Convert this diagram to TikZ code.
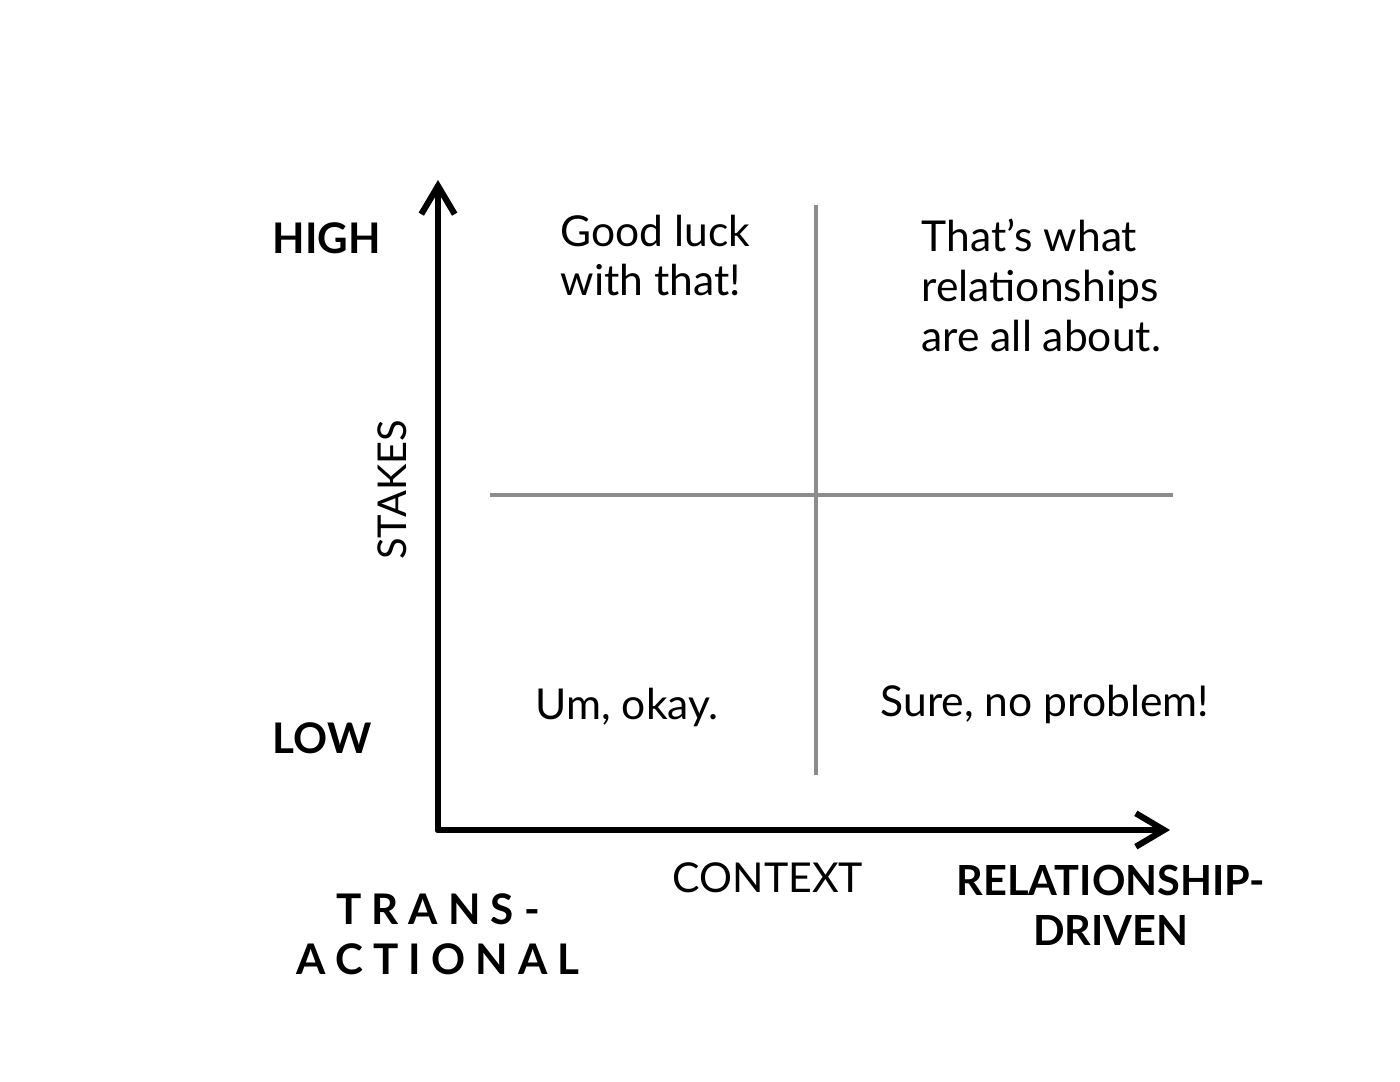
\documentclass[tikz,border=0pt]{standalone}
\usepackage{fontspec}
\setmainfont{Lato}
\usetikzlibrary{arrows.meta}
\begin{document}
\begin{tikzpicture}[x=0.01cm,y=-0.01cm,
  axis/.style={line width=1.75pt,line cap=round,-{Straight Barb[length=8pt,width=9.5pt,line width=1.75pt]}},
  grid/.style={draw=black!45,line width=0.9pt},
  lbl/.style={inner sep=0pt,font=\fontsize{12.1}{14.2}\selectfont,align=left},
  blbl/.style={inner sep=0pt,font=\fontsize{12}{14.2}\selectfont\bfseries}]
\useasboundingbox (0,0) rectangle (1400,1082);
\coordinate (o) at (438,830);
\coordinate (ytop) at (438,180);
\coordinate (xend) at (1170,830);
\coordinate (vt) at (816,205);
\coordinate (vb) at (816,775);
\coordinate (hl) at (490,495);
\coordinate (hr) at (1173,495);
\draw[grid] (vt) -- (vb);
\draw[grid] (hl) -- (hr);
\draw[axis] (o) -- (ytop);
\draw[axis] (o) -- (xend);
\node[blbl,anchor=west] (high) at (272,238) {HIGH};
\node[blbl,anchor=west] (low) at (272,738) {LOW};
\node[lbl,anchor=north west] (gl) at (560,214) {Good luck\\with that!};
\node[lbl,anchor=north west] (tw) at (921,218) {That’s what\\relationships\\are all about.};
\node[lbl,anchor=west] (um) at (535,707) {Um, okay.};
\node[lbl,anchor=west] (sure) at (880,704) {Sure, no problem!};
\node[lbl,font=\fontsize{11.3}{13}\selectfont,rotate=90] (stakes) at (392,490) {STAKES};
\node[lbl,font=\fontsize{11.7}{13}\selectfont,anchor=west] (ctx) at (672,878) {CONTEXT};
\node[blbl,align=center] (trans) at (438,934) {\addfontfeature{LetterSpace=24}TRANS-\\\addfontfeature{LetterSpace=24}ACTIONAL};
\node[blbl,font=\fontsize{11.8}{14.2}\selectfont\bfseries,align=center] (rel) at (1111,905) {RELATIONSHIP-\\DRIVEN};
\end{tikzpicture}
\end{document}
